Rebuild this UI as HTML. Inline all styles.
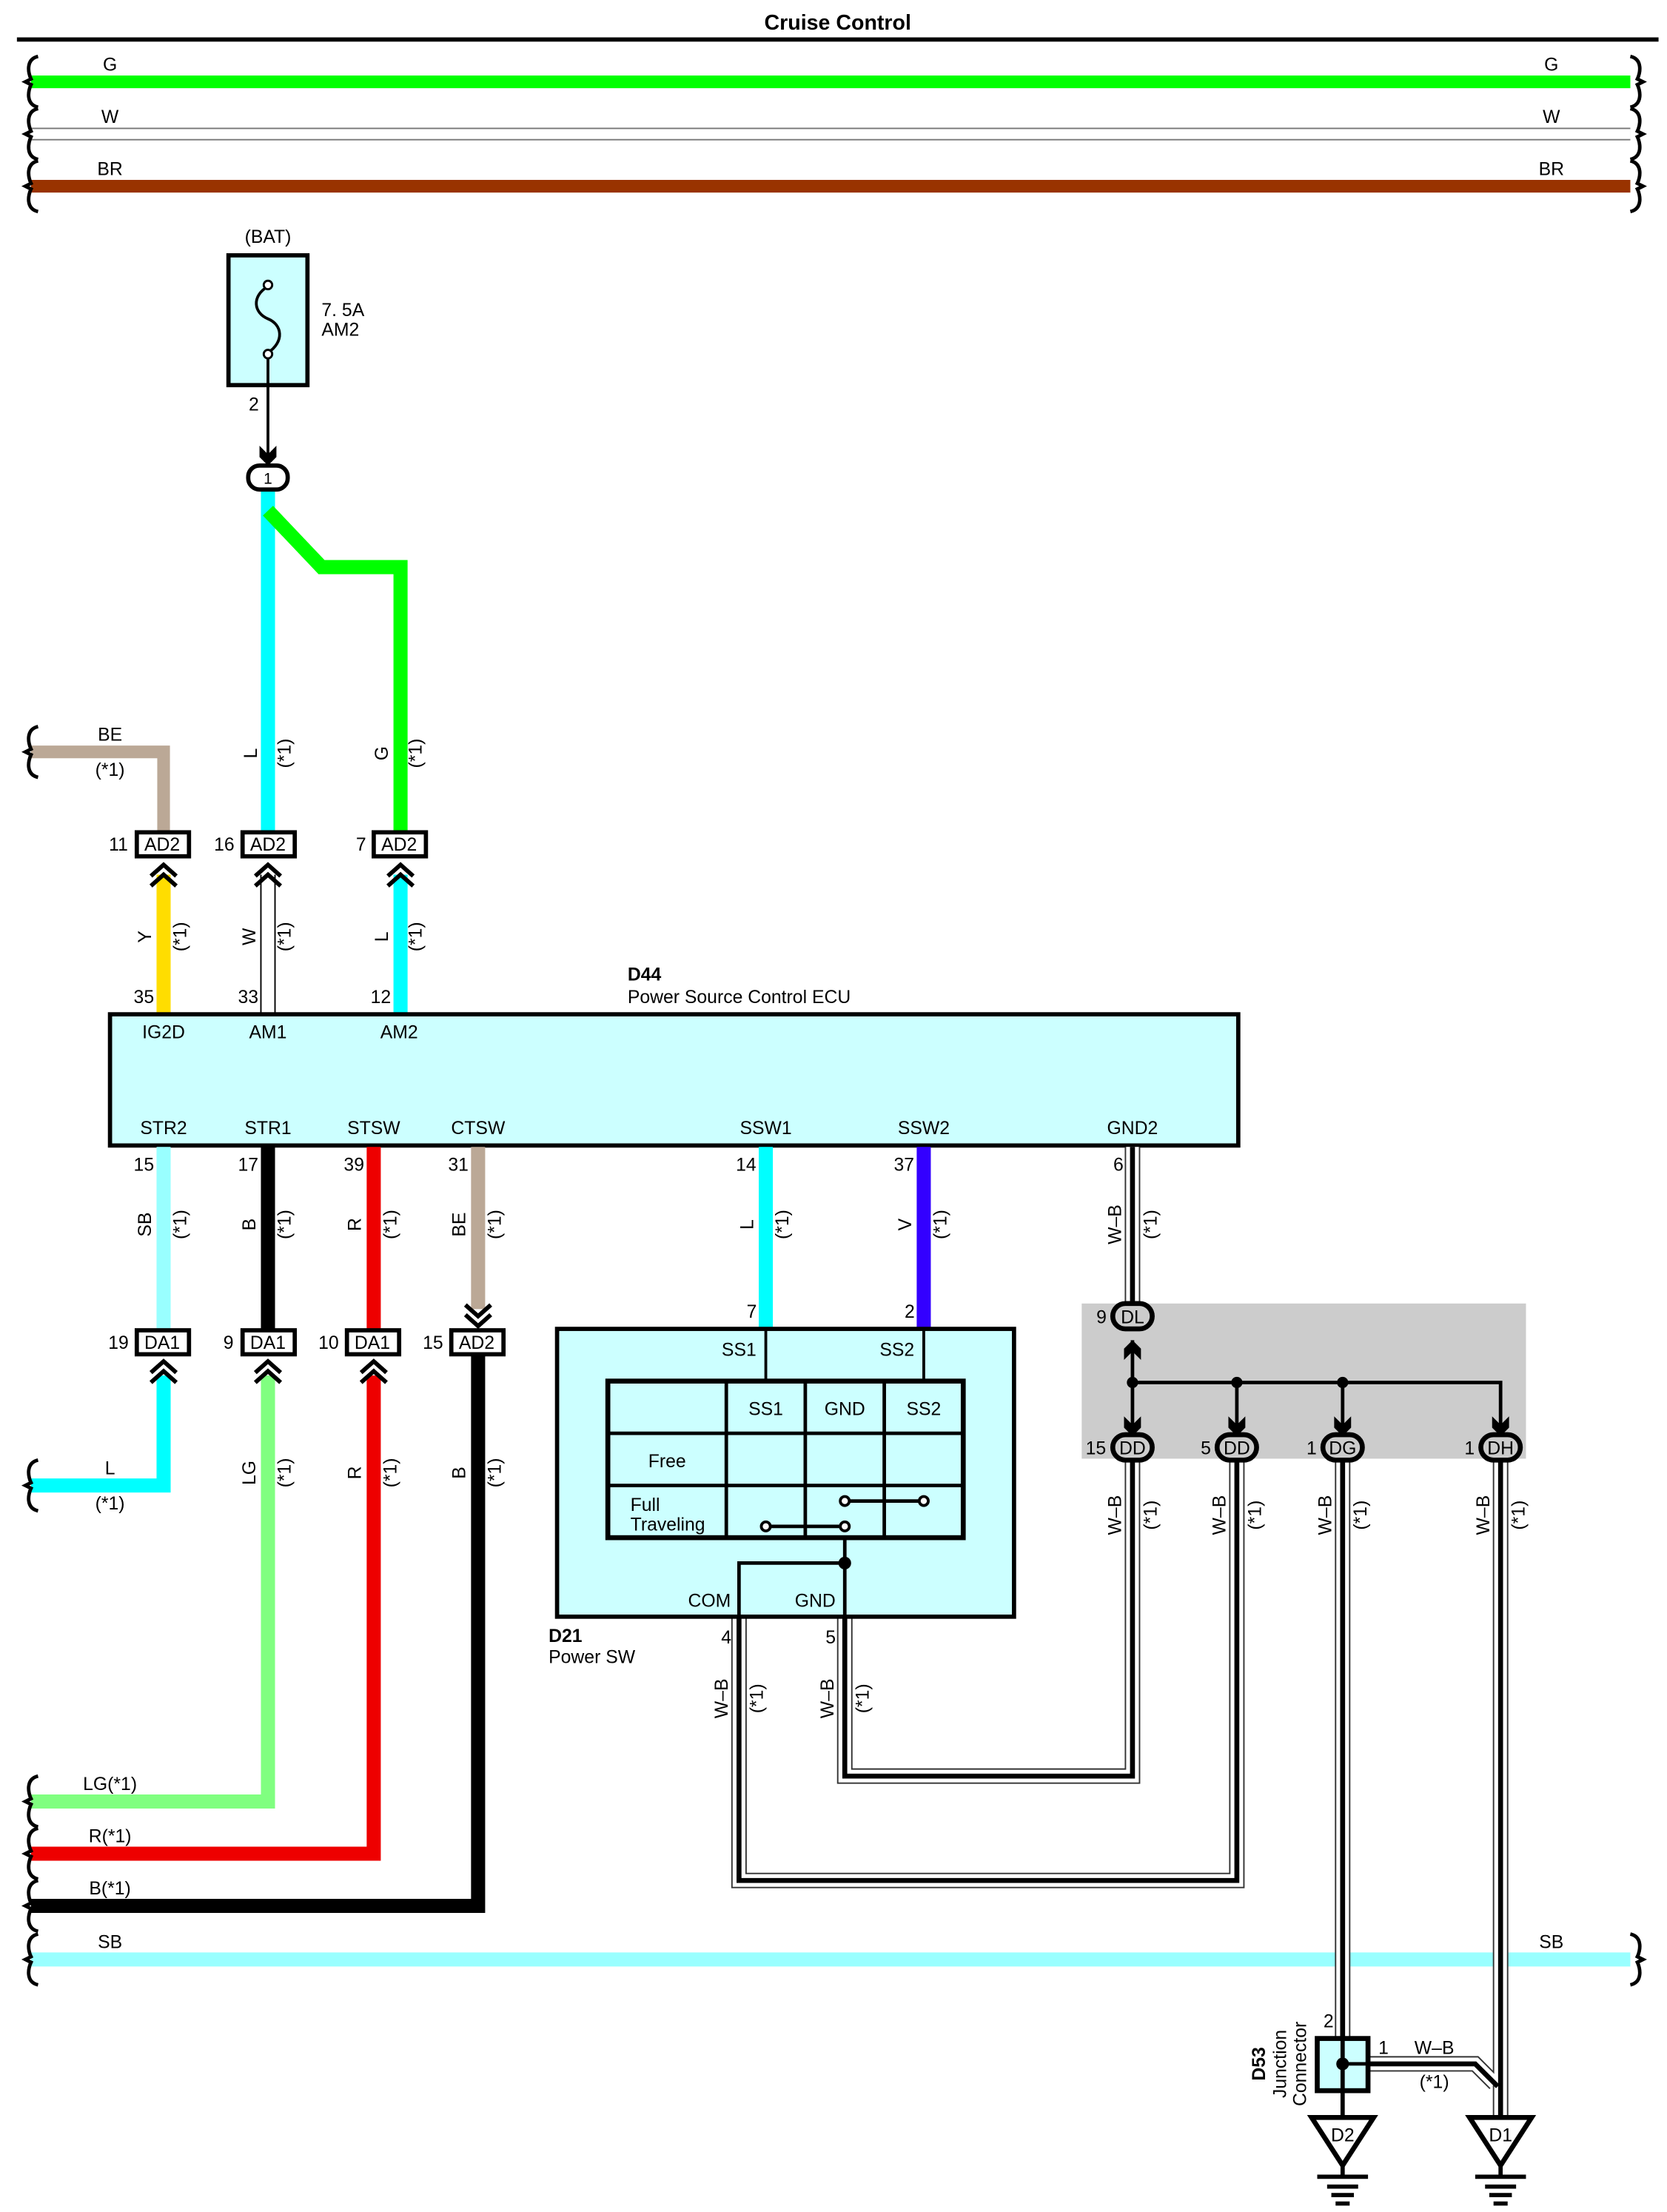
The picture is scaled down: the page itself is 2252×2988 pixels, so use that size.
<!DOCTYPE html>
<html><head><meta charset="utf-8"><style>
html,body{margin:0;padding:0;background:#fff}
svg{display:block}
text{font-family:"Liberation Sans",sans-serif;font-size:13px;fill:#000}
</style></head><body>
<svg width="2252" height="2988" viewBox="0 0 1182 1568" preserveAspectRatio="none" xmlns="http://www.w3.org/2000/svg">
<defs>
<g id="chevU"><polyline points="-9,8 0,0 9,8" fill="none" stroke="#000" stroke-width="3"/><polyline points="-9,15 0,7 9,15" fill="none" stroke="#000" stroke-width="3"/></g>
<g id="chevD"><polyline points="-9,-8 0,0 9,-8" fill="none" stroke="#000" stroke-width="3"/><polyline points="-9,-15 0,-7 9,-15" fill="none" stroke="#000" stroke-width="3"/></g>
<polygon id="arrD" points="-6,-12 0,-6 6,-12 6,-4 0,2 -6,-4"/>
<polygon id="arrU" points="-6,12 0,6 6,12 6,4 0,-2 -6,4"/>
<path id="braceL" d="M27,-18 C18,-16 20,-6 22,-2 L18,0 L22,2 C20,6 18,16 27,18" fill="none" stroke="#000" stroke-width="2.5"/>
</defs>

<!-- title -->
<text x="594" y="21" text-anchor="middle" font-weight="bold" style="font-size:15px">Cruise Control</text>
<line x1="12" y1="28" x2="1176" y2="28" stroke="#000" stroke-width="3"/>

<!-- top buses -->
<line x1="22" y1="58" x2="1156" y2="58" stroke="#00ff00" stroke-width="9"/>
<line x1="22" y1="95" x2="1156" y2="95" stroke="#777" stroke-width="9"/>
<line x1="22" y1="95" x2="1156" y2="95" stroke="#fff" stroke-width="7"/>
<line x1="22" y1="132" x2="1156" y2="132" stroke="#993300" stroke-width="9"/>
<text x="78" y="50" text-anchor="middle">G</text><text x="1100" y="50" text-anchor="middle">G</text>
<text x="78" y="87" text-anchor="middle">W</text><text x="1100" y="87" text-anchor="middle">W</text>
<text x="78" y="124" text-anchor="middle">BR</text><text x="1100" y="124" text-anchor="middle">BR</text>
<use href="#braceL" transform="translate(0,58)"/><use href="#braceL" transform="translate(0,95)"/><use href="#braceL" transform="translate(0,132)"/>
<use href="#braceL" transform="translate(1183,58) scale(-1,1)"/><use href="#braceL" transform="translate(1183,95) scale(-1,1)"/><use href="#braceL" transform="translate(1183,132) scale(-1,1)"/>

<!-- fuse -->
<text x="190" y="172" text-anchor="middle">(BAT)</text>
<rect x="162" y="181" width="56" height="92" fill="#ccffff" stroke="#000" stroke-width="3"/>
<path d="M190,203 C178,210 180,222 190,226 C200,230 202,242 190,250" fill="none" stroke="#000" stroke-width="2"/>
<circle cx="190" cy="202" r="3" fill="#fff" stroke="#000" stroke-width="1.5"/>
<circle cx="190" cy="251" r="3" fill="#fff" stroke="#000" stroke-width="1.5"/>
<line x1="190" y1="254" x2="190" y2="273" stroke="#000" stroke-width="2"/>
<text x="228" y="224">7. 5A</text><text x="228" y="238">AM2</text>
<text x="180" y="291" text-anchor="middle">2</text>
<line x1="190" y1="273" x2="190" y2="322" stroke="#000" stroke-width="2"/>
<use href="#arrD" transform="translate(190,328)"/>

<!-- cyan & green upper wires -->
<line x1="190" y1="346" x2="190" y2="590" stroke="#00ffff" stroke-width="10"/>
<polyline points="190,362 228,402 284,402 284,590" fill="none" stroke="#00ff00" stroke-width="10"/>
<rect x="176" y="330" width="28" height="17" rx="8" fill="#fff" stroke="#000" stroke-width="3"/>
<text x="190" y="343" text-anchor="middle" style="font-size:11px">1</text>

<!-- BE wire -->
<polyline points="22,533 116,533 116,590" fill="none" stroke="#bba896" stroke-width="9"/>
<use href="#braceL" transform="translate(0,533)"/>
<text x="78" y="525" text-anchor="middle">BE</text><text x="78" y="550" text-anchor="middle">(*1)</text>

<g transform="translate(182,534) rotate(-90)"><text text-anchor="middle">L</text></g>
<g transform="translate(206,534) rotate(-90)"><text text-anchor="middle">(*1)</text></g>
<g transform="translate(275,534) rotate(-90)"><text text-anchor="middle">G</text></g>
<g transform="translate(299,534) rotate(-90)"><text text-anchor="middle">(*1)</text></g>

<!-- lower wires to ECU -->
<line x1="116" y1="620" x2="116" y2="719" stroke="#ffdd00" stroke-width="10"/>
<line x1="190" y1="620" x2="190" y2="719" stroke="#000" stroke-width="11"/>
<line x1="190" y1="620" x2="190" y2="719" stroke="#fff" stroke-width="9"/>
<line x1="284" y1="620" x2="284" y2="719" stroke="#00ffff" stroke-width="10"/>
<use href="#chevU" transform="translate(116,613)"/><use href="#chevU" transform="translate(190,613)"/><use href="#chevU" transform="translate(284,613)"/>
<rect x="97" y="590" width="37" height="17" fill="#fff" stroke="#000" stroke-width="3"/><text x="115" y="603" text-anchor="middle">AD2</text>
<rect x="172" y="590" width="37" height="17" fill="#fff" stroke="#000" stroke-width="3"/><text x="190" y="603" text-anchor="middle">AD2</text>
<rect x="265" y="590" width="37" height="17" fill="#fff" stroke="#000" stroke-width="3"/><text x="283" y="603" text-anchor="middle">AD2</text>
<text x="84" y="603" text-anchor="middle">11</text><text x="159" y="603" text-anchor="middle">16</text><text x="256" y="603" text-anchor="middle">7</text>
<g transform="translate(107,664) rotate(-90)"><text text-anchor="middle">Y</text></g>
<g transform="translate(132,664) rotate(-90)"><text text-anchor="middle">(*1)</text></g>
<g transform="translate(181,664) rotate(-90)"><text text-anchor="middle">W</text></g>
<g transform="translate(206,664) rotate(-90)"><text text-anchor="middle">(*1)</text></g>
<g transform="translate(275,664) rotate(-90)"><text text-anchor="middle">L</text></g>
<g transform="translate(299,664) rotate(-90)"><text text-anchor="middle">(*1)</text></g>
<text x="102" y="711" text-anchor="middle">35</text><text x="176" y="711" text-anchor="middle">33</text><text x="270" y="711" text-anchor="middle">12</text>

<!-- ECU -->
<text x="445" y="695" font-weight="bold">D44</text>
<text x="445" y="711">Power Source Control ECU</text>
<rect x="78" y="719" width="800" height="93" fill="#ccffff" stroke="#000" stroke-width="3"/>
<text x="116" y="736" text-anchor="middle">IG2D</text><text x="190" y="736" text-anchor="middle">AM1</text><text x="283" y="736" text-anchor="middle">AM2</text>
<text x="116" y="804" text-anchor="middle">STR2</text><text x="190" y="804" text-anchor="middle">STR1</text><text x="265" y="804" text-anchor="middle">STSW</text><text x="339" y="804" text-anchor="middle">CTSW</text>
<text x="543" y="804" text-anchor="middle">SSW1</text><text x="655" y="804" text-anchor="middle">SSW2</text><text x="803" y="804" text-anchor="middle">GND2</text>

<!-- wires below ECU -->
<line x1="116" y1="813" x2="116" y2="942" stroke="#99ffff" stroke-width="10"/>
<line x1="190" y1="813" x2="190" y2="942" stroke="#000" stroke-width="10"/>
<line x1="265" y1="813" x2="265" y2="942" stroke="#ee0000" stroke-width="10"/>
<line x1="339" y1="813" x2="339" y2="928" stroke="#bba896" stroke-width="10"/>
<use href="#chevD" transform="translate(339,940)"/>
<line x1="543" y1="813" x2="543" y2="942" stroke="#00ffff" stroke-width="10"/>
<line x1="655" y1="813" x2="655" y2="942" stroke="#3300ff" stroke-width="10"/>
<text x="102" y="830" text-anchor="middle">15</text><text x="176" y="830" text-anchor="middle">17</text><text x="251" y="830" text-anchor="middle">39</text><text x="325" y="830" text-anchor="middle">31</text>
<text x="529" y="830" text-anchor="middle">14</text><text x="641" y="830" text-anchor="middle">37</text><text x="793" y="830" text-anchor="middle">6</text>
<g transform="translate(107,868) rotate(-90)"><text text-anchor="middle">SB</text></g>
<g transform="translate(132,868) rotate(-90)"><text text-anchor="middle">(*1)</text></g>
<g transform="translate(181,868) rotate(-90)"><text text-anchor="middle">B</text></g>
<g transform="translate(206,868) rotate(-90)"><text text-anchor="middle">(*1)</text></g>
<g transform="translate(256,868) rotate(-90)"><text text-anchor="middle">R</text></g>
<g transform="translate(281,868) rotate(-90)"><text text-anchor="middle">(*1)</text></g>
<g transform="translate(330,868) rotate(-90)"><text text-anchor="middle">BE</text></g>
<g transform="translate(355,868) rotate(-90)"><text text-anchor="middle">(*1)</text></g>
<g transform="translate(534,868) rotate(-90)"><text text-anchor="middle">L</text></g>
<g transform="translate(559,868) rotate(-90)"><text text-anchor="middle">(*1)</text></g>
<g transform="translate(646,868) rotate(-90)"><text text-anchor="middle">V</text></g>
<g transform="translate(671,868) rotate(-90)"><text text-anchor="middle">(*1)</text></g>
<g transform="translate(795,868) rotate(-90)"><text text-anchor="middle">W–B</text></g>
<g transform="translate(820,868) rotate(-90)"><text text-anchor="middle">(*1)</text></g>

<!-- lower left wires -->
<polyline points="116,975 116,1053 22,1053" fill="none" stroke="#00ffff" stroke-width="10"/>
<polyline points="190,975 190,1277 22,1277" fill="none" stroke="#80ff80" stroke-width="10"/>
<polyline points="265,975 265,1314 22,1314" fill="none" stroke="#ee0000" stroke-width="10"/>
<polyline points="339,960 339,1351 22,1351" fill="none" stroke="#000" stroke-width="10"/>
<line x1="22" y1="1389" x2="1156" y2="1389" stroke="#99ffff" stroke-width="10"/>
<use href="#chevU" transform="translate(116,965)"/><use href="#chevU" transform="translate(190,965)"/><use href="#chevU" transform="translate(265,965)"/>
<rect x="97" y="943" width="37" height="17" fill="#fff" stroke="#000" stroke-width="3"/><text x="115" y="956" text-anchor="middle">DA1</text>
<rect x="172" y="943" width="37" height="17" fill="#fff" stroke="#000" stroke-width="3"/><text x="190" y="956" text-anchor="middle">DA1</text>
<rect x="246" y="943" width="37" height="17" fill="#fff" stroke="#000" stroke-width="3"/><text x="264" y="956" text-anchor="middle">DA1</text>
<rect x="320" y="943" width="37" height="17" fill="#fff" stroke="#000" stroke-width="3"/><text x="338" y="956" text-anchor="middle">AD2</text>
<text x="84" y="956" text-anchor="middle">19</text><text x="162" y="956" text-anchor="middle">9</text><text x="233" y="956" text-anchor="middle">10</text><text x="307" y="956" text-anchor="middle">15</text>
<text x="78" y="1045" text-anchor="middle">L</text><text x="78" y="1070" text-anchor="middle">(*1)</text>
<g transform="translate(181,1044) rotate(-90)"><text text-anchor="middle">LG</text></g>
<g transform="translate(206,1044) rotate(-90)"><text text-anchor="middle">(*1)</text></g>
<g transform="translate(256,1044) rotate(-90)"><text text-anchor="middle">R</text></g>
<g transform="translate(281,1044) rotate(-90)"><text text-anchor="middle">(*1)</text></g>
<g transform="translate(330,1044) rotate(-90)"><text text-anchor="middle">B</text></g>
<g transform="translate(355,1044) rotate(-90)"><text text-anchor="middle">(*1)</text></g>
<text x="78" y="1269" text-anchor="middle">LG(*1)</text><text x="78" y="1306" text-anchor="middle">R(*1)</text><text x="78" y="1343" text-anchor="middle">B(*1)</text>
<text x="78" y="1381" text-anchor="middle">SB</text><text x="1100" y="1381" text-anchor="middle">SB</text>
<use href="#braceL" transform="translate(0,1053)"/><use href="#braceL" transform="translate(0,1277)"/><use href="#braceL" transform="translate(0,1314)"/><use href="#braceL" transform="translate(0,1351)"/><use href="#braceL" transform="translate(0,1389)"/>
<use href="#braceL" transform="translate(1183,1389) scale(-1,1)"/>

<!-- gray junction block -->
<rect x="767" y="924" width="315" height="110" fill="#cccccc"/>

<!-- W-B double wires -->
<g fill="none" stroke-linejoin="miter">
<g stroke="#333" stroke-width="11">
<polyline points="803,813 803,924"/>
<polyline points="803,1034 803,1259 599,1259 599,1146"/>
<polyline points="877,1034 877,1333 524,1333 524,1146"/>
<polyline points="952,1034 952,1445"/>
<polyline points="1064,1034 1064,1500"/>
<polyline points="970,1463 1046,1463 1060,1477"/>
</g>
<g stroke="#fff" stroke-width="9">
<polyline points="803,813 803,924"/>
<polyline points="803,1034 803,1259 599,1259 599,1146"/>
<polyline points="877,1034 877,1333 524,1333 524,1146"/>
<polyline points="952,1034 952,1445"/>
<polyline points="1064,1034 1064,1500"/>
<polyline points="970,1463 1046,1463 1060,1477"/>
</g>
<g stroke="#000" stroke-width="3.5">
<polyline points="803,813 803,924"/>
<polyline points="803,1034 803,1259 599,1259 599,1146"/>
<polyline points="877,1034 877,1333 524,1333 524,1146"/>
<polyline points="952,1034 952,1445"/>
<polyline points="1064,1034 1064,1500"/>
<polyline points="970,1463 1046,1463 1062,1479"/>
</g>
</g>

<!-- junction internals -->
<line x1="803" y1="950" x2="803" y2="1010" stroke="#000" stroke-width="2.5"/>
<polyline points="803,980 1064,980 1064,1010" fill="none" stroke="#000" stroke-width="2.5"/>
<line x1="877" y1="980" x2="877" y2="1010" stroke="#000" stroke-width="2.5"/>
<line x1="952" y1="980" x2="952" y2="1010" stroke="#000" stroke-width="2.5"/>
<circle cx="803" cy="980" r="4"/><circle cx="877" cy="980" r="4"/><circle cx="952" cy="980" r="4"/>
<use href="#arrU" transform="translate(803,952)"/>
<use href="#arrD" transform="translate(803,1016)"/><use href="#arrD" transform="translate(877,1016)"/><use href="#arrD" transform="translate(952,1016)"/><use href="#arrD" transform="translate(1064,1016)"/>
<g fill="#ccc" stroke="#000" stroke-width="3.5">
<rect x="789" y="924" width="28" height="18" rx="9"/>
<rect x="789" y="1017" width="28" height="18" rx="9"/>
<rect x="863" y="1017" width="28" height="18" rx="9"/>
<rect x="938" y="1017" width="28" height="18" rx="9"/>
<rect x="1050" y="1017" width="28" height="18" rx="9"/>
</g>
<text x="803" y="938" text-anchor="middle">DL</text><text x="803" y="1031" text-anchor="middle">DD</text><text x="877" y="1031" text-anchor="middle">DD</text><text x="952" y="1031" text-anchor="middle">DG</text><text x="1064" y="1031" text-anchor="middle">DH</text>
<text x="781" y="938" text-anchor="middle">9</text><text x="777" y="1031" text-anchor="middle">15</text><text x="855" y="1031" text-anchor="middle">5</text><text x="930" y="1031" text-anchor="middle">1</text><text x="1042" y="1031" text-anchor="middle">1</text>
<g transform="translate(795,1074) rotate(-90)"><text text-anchor="middle">W–B</text></g>
<g transform="translate(820,1074) rotate(-90)"><text text-anchor="middle">(*1)</text></g>
<g transform="translate(869,1074) rotate(-90)"><text text-anchor="middle">W–B</text></g>
<g transform="translate(894,1074) rotate(-90)"><text text-anchor="middle">(*1)</text></g>
<g transform="translate(944,1074) rotate(-90)"><text text-anchor="middle">W–B</text></g>
<g transform="translate(969,1074) rotate(-90)"><text text-anchor="middle">(*1)</text></g>
<g transform="translate(1056,1074) rotate(-90)"><text text-anchor="middle">W–B</text></g>
<g transform="translate(1081,1074) rotate(-90)"><text text-anchor="middle">(*1)</text></g>

<!-- D21 Power SW -->
<rect x="395" y="942" width="324" height="204" fill="#ccffff" stroke="#000" stroke-width="3"/>
<text x="533" y="934" text-anchor="middle">7</text><text x="645" y="934" text-anchor="middle">2</text>
<line x1="543" y1="942" x2="543" y2="979" stroke="#000" stroke-width="2"/>
<line x1="655" y1="942" x2="655" y2="979" stroke="#000" stroke-width="2"/>
<text x="524" y="961" text-anchor="middle">SS1</text><text x="636" y="961" text-anchor="middle">SS2</text>
<rect x="431" y="979" width="252" height="111" fill="#ccffff" stroke="#000" stroke-width="3.5"/>
<g stroke="#000" stroke-width="2.5">
<line x1="515" y1="979" x2="515" y2="1090"/><line x1="571" y1="979" x2="571" y2="1090"/><line x1="627" y1="979" x2="627" y2="1090"/>
<line x1="431" y1="1016" x2="683" y2="1016"/><line x1="431" y1="1053" x2="683" y2="1053"/>
<line x1="599" y1="1064" x2="655" y2="1064"/><line x1="543" y1="1082" x2="599" y2="1082"/>
<line x1="599" y1="1090" x2="599" y2="1146"/>
<polyline points="524,1146 524,1108 599,1108" fill="none"/>
</g>
<g fill="#fff" stroke="#000" stroke-width="2"><circle cx="599" cy="1064" r="3.2"/><circle cx="655" cy="1064" r="3.2"/><circle cx="543" cy="1082" r="3.2"/><circle cx="599" cy="1082" r="3.2"/></g>
<circle cx="599" cy="1108" r="4.5"/>
<text x="543" y="1003" text-anchor="middle">SS1</text><text x="599" y="1003" text-anchor="middle">GND</text><text x="655" y="1003" text-anchor="middle">SS2</text>
<text x="473" y="1040" text-anchor="middle">Free</text>
<text x="447" y="1071">Full</text><text x="447" y="1085">Traveling</text>
<text x="503" y="1139" text-anchor="middle">COM</text><text x="578" y="1139" text-anchor="middle">GND</text>
<text x="389" y="1164" font-weight="bold">D21</text><text x="389" y="1179">Power SW</text>
<text x="515" y="1165" text-anchor="middle">4</text><text x="589" y="1165" text-anchor="middle">5</text>
<g transform="translate(516,1204) rotate(-90)"><text text-anchor="middle">W–B</text></g>
<g transform="translate(541,1204) rotate(-90)"><text text-anchor="middle">(*1)</text></g>
<g transform="translate(591,1204) rotate(-90)"><text text-anchor="middle">W–B</text></g>
<g transform="translate(616,1204) rotate(-90)"><text text-anchor="middle">(*1)</text></g>

<!-- D53 and grounds -->
<rect x="934" y="1445" width="36" height="37" fill="#ccffff" stroke="#000" stroke-width="3.5"/>
<line x1="952" y1="1445" x2="952" y2="1500" stroke="#000" stroke-width="3"/>
<line x1="952" y1="1463" x2="970" y2="1463" stroke="#000" stroke-width="2.5"/>
<circle cx="952" cy="1463" r="4.5"/>
<text x="942" y="1437" text-anchor="middle">2</text><text x="981" y="1456" text-anchor="middle">1</text>
<text x="1017" y="1456" text-anchor="middle">W–B</text><text x="1017" y="1480" text-anchor="middle">(*1)</text>
<g transform="translate(897,1463) rotate(-90)"><text text-anchor="middle" font-weight="bold">D53</text></g>
<g transform="translate(912,1463) rotate(-90)"><text text-anchor="middle">Junction</text></g>
<g transform="translate(926,1463) rotate(-90)"><text text-anchor="middle">Connector</text></g>
<g fill="#fff" stroke="#000" stroke-width="3.5">
<polygon points="930,1501 974,1501 952,1535"/>
<polygon points="1042,1501 1086,1501 1064,1535"/>
</g>
<text x="952" y="1518" text-anchor="middle">D2</text><text x="1064" y="1518" text-anchor="middle">D1</text>
<g stroke="#000" stroke-width="3">
<line x1="952" y1="1535" x2="952" y2="1543"/><line x1="934" y1="1543" x2="970" y2="1543"/><line x1="941" y1="1550" x2="963" y2="1550"/><line x1="944" y1="1556" x2="960" y2="1556"/><line x1="947" y1="1562" x2="957" y2="1562"/>
<line x1="1064" y1="1535" x2="1064" y2="1543"/><line x1="1046" y1="1543" x2="1082" y2="1543"/><line x1="1053" y1="1550" x2="1075" y2="1550"/><line x1="1056" y1="1556" x2="1072" y2="1556"/><line x1="1059" y1="1562" x2="1069" y2="1562"/>
</g>
</svg>
</body></html>
